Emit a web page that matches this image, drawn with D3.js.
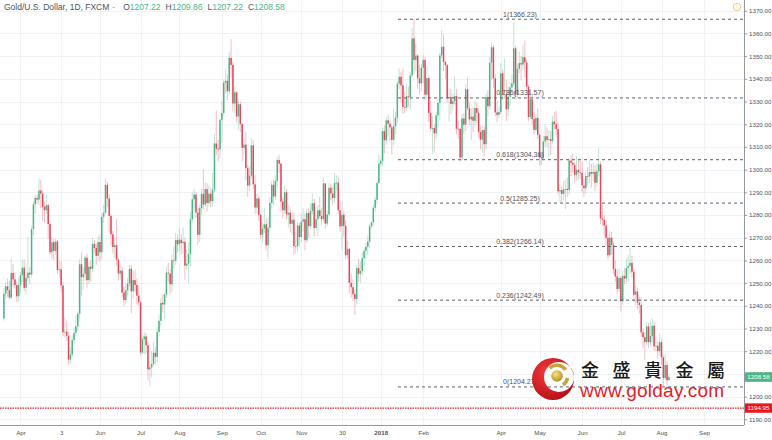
<!DOCTYPE html>
<html><head><meta charset="utf-8">
<script src="https://cdn.jsdelivr.net/npm/d3@7"></script>
<style>body{margin:0;background:#fff}svg{display:block}</style>
</head><body><svg id="c" width="772" height="440"></svg>
<script>
// ---- data: XAU/USD daily candles (FXCM), 2017-03-21 .. 2018-08-07 ----
const opens = [
1234.5,1245.3,1248.6,1246.9,1243.6,1254.5,1251.6,1249.1,1244.2,1249.2,
1253.5,1256.8,1247.9,1252.3,1254.6,1253.8,1273.8,1284.7,1287.5,1286.8,
1290.8,1289.4,1283.6,1282.1,1284.3,1276.0,1263.6,1268.0,1264.2,1268.3,
1255.8,1256.1,1249.0,1228.3,1228.6,1226.8,1216.3,1218.5,1224.9,1228.1,
1230.9,1236.5,1258.3,1252.6,1254.0,1261.2,1251.3,1257.2,1256.3,1267.3,
1265.5,1262.0,1268.1,1263.6,1279.2,1281.0,1293.3,1287.3,1279.6,1271.5,
1265.9,1266.7,1260.3,1254.2,1255.5,1245.8,1242.5,1246.8,1249.8,1256.3,
1246.4,1251.3,1249.2,1244.5,1241.5,1219.4,1225.3,1226.5,1222.6,1212.0,
1212.9,1214.4,1219.3,1217.5,1228.5,1233.4,1241.3,1240.6,1245.0,1254.6,
1254.2,1249.5,1260.0,1259.9,1269.0,1267.1,1269.1,1267.6,1268.2,1257.7,
1258.6,1262.8,1278.1,1286.9,1289.0,1281.1,1271.3,1283.1,1289.3,1284.6,
1291.4,1285.3,1289.4,1286.1,1291.1,1311.5,1309.2,1308.9,1321.9,1324.9,
1338.3,1339.1,1334.5,1349.2,1346.1,1329.1,1334.0,1323.4,1328.8,1320.1,
1309.6,1311.0,1300.6,1293.0,1297.3,1310.7,1293.5,1283.3,1287.3,1280.0,
1271.3,1274.0,1275.9,1266.7,1274.4,1285.3,1293.3,1288.2,1295.1,1304.2,
1302.6,1285.9,1282.1,1290.0,1280.2,1281.0,1276.1,1277.9,1266.3,1266.3,
1275.4,1270.3,1277.0,1278.1,1268.9,1280.9,1275.1,1281.8,1285.2,1274.3,
1278.2,1282.1,1279.5,1278.2,1293.9,1276.2,1280.2,1292.0,1289.5,1287.5,
1294.1,1294.3,1282.1,1275.0,1280.1,1275.2,1262.3,1265.1,1250.1,1248.2,
1245.1,1243.0,1256.6,1254.1,1255.3,1261.0,1264.2,1266.0,1268.3,1275.1,
1276.8,1283.2,1286.7,1294.1,1302.6,1303.8,1316.9,1312.9,1321.7,1320.2,
1318.6,1313.1,1319.1,1322.9,1337.9,1340.9,1337.1,1327.6,1327.3,1332.3,
1331.9,1341.5,1357.8,1348.3,1350.2,1340.2,1338.0,1344.9,1348.3,1333.0,
1340.3,1324.9,1318.1,1318.3,1316.0,1323.9,1329.4,1350.3,1354.1,1347.4,
1346.0,1331.5,1332.0,1328.9,1330.2,1332.4,1318.0,1317.9,1305.4,1322.5,
1319.8,1335.4,1327.0,1322.1,1323.3,1321.5,1327.1,1325.0,1316.6,1313.2,
1317.4,1311.2,1332.0,1327.9,1347.1,1353.9,1340.2,1325.2,1324.1,1325.4,
1342.4,1333.0,1333.3,1326.6,1332.1,1336.2,1338.0,1353.4,1333.1,1344.4,
1346.9,1346.3,1349.5,1347.2,1336.5,1323.2,1331.0,1322.3,1317.5,1322.8,
1315.3,1305.4,1305.1,1312.4,1314.7,1313.1,1313.4,1312.6,1321.1,1320.0,
1317.9,1290.4,1291.0,1289.3,1291.3,1291.5,1291.0,1304.0,1303.0,1302.0,
1297.7,1299.9,1298.8,1298.5,1293.0,1291.8,1297.2,1297.0,1298.9,1298.2,
1299.0,1294.2,1299.3,1302.3,1278.5,1277.9,1275.4,1269.9,1262.3,1270.0,
1266.8,1256.2,1252.9,1247.4,1252.3,1242.0,1253.2,1252.0,1256.7,1257.6,
1258.9,1255.0,1244.9,1246.3,1241.4,1240.3,1228.3,1226.2,1224.0,1230.9,
1224.0,1226.7,1231.2,1222.2,1222.4,1220.0,1224.0,1217.3,1208.2,1213.9,
1207.22];
const highs = [
1248.0,1250.5,1252.0,1251.0,1261.0,1258.5,1254.8,1250.5,1252.5,1255.0,
1260.0,1260.5,1254.0,1270.5,1257.0,1275.0,1286.0,1288.5,1289.0,1296.0,
1295.5,1290.8,1286.0,1289.0,1285.0,1277.0,1270.5,1269.5,1269.5,1269.0,
1260.0,1259.5,1250.5,1235.0,1233.5,1228.5,1222.0,1227.0,1230.5,1236.0,
1237.5,1260.5,1263.5,1257.0,1262.0,1263.0,1259.0,1260.0,1270.0,1269.0,
1267.5,1270.5,1271.0,1281.0,1284.5,1296.0,1294.5,1289.0,1280.5,1273.0,
1270.0,1278.5,1261.0,1258.0,1257.5,1248.5,1250.0,1252.5,1258.0,1258.0,
1255.5,1256.0,1252.0,1249.0,1242.0,1227.0,1228.5,1228.0,1224.0,1215.5,
1220.0,1224.0,1222.0,1230.5,1236.0,1243.5,1245.0,1246.0,1257.0,1259.0,
1256.0,1262.5,1266.0,1272.0,1271.5,1274.0,1271.5,1274.5,1270.0,1265.0,
1268.0,1281.5,1290.0,1291.5,1290.0,1283.0,1284.5,1291.5,1300.0,1294.5,
1294.0,1293.0,1292.0,1298.5,1316.0,1326.0,1313.0,1322.5,1330.0,1339.5,
1344.5,1342.0,1352.0,1357.5,1347.5,1336.5,1334.5,1331.0,1330.0,1320.5,
1313.5,1316.5,1302.0,1301.5,1314.0,1313.0,1297.5,1289.5,1288.5,1280.5,
1276.5,1283.0,1278.5,1279.0,1288.0,1295.0,1295.5,1297.0,1305.5,1306.5,
1303.0,1287.5,1293.0,1291.5,1284.5,1283.5,1281.5,1281.0,1272.5,1277.0,
1276.5,1280.5,1283.0,1280.5,1282.5,1283.0,1285.0,1289.5,1287.0,1281.5,
1284.5,1288.0,1283.0,1296.5,1294.0,1282.0,1294.0,1293.5,1292.5,1298.5,
1297.5,1297.0,1286.5,1286.0,1282.0,1277.5,1268.5,1265.5,1254.0,1251.5,
1247.0,1258.0,1260.5,1259.5,1263.5,1265.5,1268.0,1271.0,1276.0,1277.0,
1284.5,1288.0,1295.0,1306.5,1305.0,1318.5,1319.5,1323.0,1324.0,1321.5,
1319.5,1327.0,1325.5,1339.0,1344.5,1343.0,1344.5,1334.0,1338.0,1336.5,
1343.0,1362.5,1366.2,1355.5,1351.0,1346.0,1346.5,1350.5,1349.5,1345.5,
1341.0,1330.5,1323.5,1320.0,1325.5,1331.5,1351.5,1361.5,1359.5,1348.0,
1346.5,1336.0,1335.5,1333.5,1341.0,1335.5,1321.5,1318.5,1324.5,1325.0,
1337.5,1340.5,1329.5,1327.0,1327.5,1330.0,1329.5,1327.0,1319.5,1319.5,
1319.0,1333.5,1335.0,1349.5,1356.0,1355.0,1342.0,1330.5,1327.5,1347.0,
1344.0,1349.0,1339.5,1336.5,1338.5,1342.0,1365.0,1354.5,1346.5,1352.0,
1350.0,1355.0,1357.0,1348.5,1337.5,1335.5,1333.5,1325.5,1324.5,1327.0,
1316.0,1307.5,1315.0,1320.0,1318.5,1317.5,1317.0,1323.5,1325.5,1326.0,
1320.5,1293.5,1292.5,1295.0,1295.5,1296.5,1305.0,1306.5,1307.0,1303.0,
1306.0,1304.5,1304.0,1303.5,1296.0,1299.0,1301.0,1304.0,1302.5,1303.0,
1302.0,1303.0,1309.5,1303.5,1284.5,1280.0,1277.5,1271.5,1273.0,1272.5,
1268.0,1260.0,1256.0,1256.5,1253.0,1255.5,1256.5,1261.0,1262.5,1265.5,
1262.0,1256.5,1249.0,1248.0,1244.0,1243.5,1230.0,1228.5,1233.0,1232.5,
1233.5,1234.5,1233.0,1226.5,1224.5,1228.0,1225.5,1218.5,1218.5,1215.5,
1209.86];
const lows = [
1233.5,1243.0,1243.8,1242.5,1243.0,1248.5,1247.5,1241.5,1242.0,1245.5,
1250.5,1246.5,1245.0,1250.5,1249.5,1252.5,1271.0,1280.5,1285.0,1284.5,
1283.0,1277.5,1276.5,1280.5,1269.5,1262.5,1260.5,1260.0,1262.5,1254.0,
1252.5,1246.0,1226.5,1226.0,1224.5,1214.0,1214.5,1217.5,1223.0,1226.5,
1229.0,1234.0,1244.5,1247.0,1251.0,1248.0,1249.5,1250.5,1255.0,1263.5,
1258.0,1260.0,1259.5,1260.5,1276.5,1280.5,1283.5,1272.5,1266.5,1263.0,
1261.0,1257.5,1251.0,1251.5,1243.5,1240.0,1241.0,1244.5,1248.5,1236.5,
1243.0,1246.0,1240.5,1240.0,1218.0,1218.5,1218.5,1219.0,1207.5,1204.5,
1208.5,1213.5,1214.0,1215.0,1226.5,1231.0,1237.0,1234.0,1243.5,1250.5,
1245.0,1246.0,1256.5,1258.0,1263.5,1264.0,1262.5,1263.0,1251.5,1256.0,
1250.0,1257.5,1276.5,1282.0,1278.5,1267.0,1268.0,1280.0,1282.5,1283.5,
1281.5,1284.0,1283.5,1283.5,1290.0,1306.5,1303.5,1305.0,1312.0,1323.5,
1333.5,1330.5,1333.0,1340.5,1325.5,1325.0,1320.5,1317.5,1316.5,1303.5,
1306.5,1295.5,1288.0,1290.5,1296.0,1291.5,1280.5,1280.5,1277.5,1269.5,
1267.5,1272.0,1264.5,1260.5,1273.0,1283.0,1284.5,1286.5,1292.0,1298.5,
1281.5,1278.5,1280.5,1278.0,1274.5,1272.5,1271.0,1262.5,1263.0,1264.0,
1266.5,1268.0,1272.5,1264.5,1267.5,1270.0,1274.0,1280.5,1270.5,1273.5,
1270.5,1278.5,1275.5,1277.0,1274.0,1275.0,1279.5,1286.5,1284.5,1285.5,
1290.5,1280.5,1272.5,1264.5,1270.5,1260.5,1260.5,1245.5,1243.5,1242.0,
1236.0,1240.5,1250.5,1250.0,1253.5,1257.5,1260.5,1262.5,1265.5,1274.0,
1275.0,1281.5,1285.0,1293.5,1301.0,1301.5,1307.0,1311.0,1315.0,1312.5,
1306.5,1310.5,1315.5,1320.5,1335.5,1329.5,1324.5,1325.0,1326.0,1327.5,
1326.5,1340.5,1342.0,1343.5,1335.5,1333.0,1334.5,1338.0,1330.5,1331.0,
1321.0,1317.0,1307.0,1307.5,1313.5,1318.5,1322.0,1349.0,1343.5,1340.0,
1329.5,1321.0,1324.5,1326.0,1328.5,1315.5,1313.5,1303.5,1304.0,1315.5,
1317.0,1326.0,1319.5,1313.0,1316.5,1318.5,1320.5,1314.0,1309.0,1307.5,
1306.0,1309.0,1323.5,1326.5,1339.5,1336.0,1323.5,1321.0,1322.5,1324.5,
1330.5,1331.0,1321.5,1323.5,1328.0,1334.0,1336.5,1331.0,1331.5,1342.5,
1339.5,1343.5,1340.5,1334.5,1321.5,1322.5,1319.5,1315.5,1316.5,1313.5,
1301.5,1302.0,1304.0,1310.0,1310.0,1304.5,1306.5,1311.5,1318.0,1314.5,
1289.0,1285.5,1285.5,1286.5,1282.5,1288.0,1289.0,1297.0,1298.5,1294.5,
1295.0,1295.5,1296.0,1290.0,1288.0,1289.5,1293.0,1294.0,1292.0,1295.0,
1290.5,1292.5,1297.0,1276.0,1275.5,1270.5,1266.5,1260.5,1261.5,1262.5,
1254.0,1250.5,1245.5,1246.0,1237.5,1240.5,1249.5,1250.0,1250.5,1254.0,
1252.5,1241.5,1240.0,1238.5,1236.5,1226.5,1221.5,1216.0,1222.5,1221.5,
1222.0,1223.5,1220.0,1220.0,1216.5,1218.0,1214.0,1204.5,1207.0,1204.5,
1207.22];
const closes = [
1245.3,1248.6,1246.9,1243.6,1254.5,1251.6,1249.1,1244.2,1249.2,1253.5,
1256.8,1247.9,1252.3,1254.6,1253.8,1273.8,1284.7,1287.5,1286.8,1290.8,
1289.4,1283.6,1282.1,1284.3,1276.0,1263.6,1268.0,1264.2,1268.3,1255.8,
1256.1,1249.0,1228.3,1228.6,1226.8,1216.3,1218.5,1224.9,1228.1,1230.9,
1236.5,1258.3,1252.6,1254.0,1261.2,1251.3,1257.2,1256.3,1267.3,1265.5,
1262.0,1268.1,1263.6,1279.2,1281.0,1293.3,1287.3,1279.6,1271.5,1265.9,
1266.7,1260.3,1254.2,1255.5,1245.8,1242.5,1246.8,1249.8,1256.3,1246.4,
1251.3,1249.2,1244.5,1241.5,1219.4,1225.3,1226.5,1222.6,1212.0,1212.9,
1214.4,1219.3,1217.5,1228.5,1233.4,1241.3,1240.6,1245.0,1254.6,1254.2,
1249.5,1260.0,1259.9,1269.0,1267.1,1269.1,1267.6,1268.2,1257.7,1258.6,
1262.8,1278.1,1286.9,1289.0,1281.1,1271.3,1283.1,1289.3,1284.6,1291.4,
1285.3,1289.4,1286.1,1291.1,1311.5,1309.2,1308.9,1321.9,1324.9,1338.3,
1339.1,1334.5,1349.2,1346.1,1329.1,1334.0,1323.4,1328.8,1320.1,1309.6,
1311.0,1300.6,1293.0,1297.3,1310.7,1293.5,1283.3,1287.3,1280.0,1271.3,
1274.0,1275.9,1266.7,1274.4,1285.3,1293.3,1288.2,1295.1,1304.2,1302.6,
1285.9,1282.1,1290.0,1280.2,1281.0,1276.1,1277.9,1266.3,1266.3,1275.4,
1270.3,1277.0,1278.1,1268.9,1280.9,1275.1,1281.8,1285.2,1274.3,1278.2,
1282.1,1279.5,1278.2,1293.9,1276.2,1280.2,1292.0,1289.5,1287.5,1294.1,
1294.3,1282.1,1275.0,1280.1,1275.2,1262.3,1265.1,1250.1,1248.2,1245.1,
1243.0,1256.6,1254.1,1255.3,1261.0,1264.2,1266.0,1268.3,1275.1,1276.8,
1283.2,1286.7,1294.1,1302.6,1303.8,1316.9,1312.9,1321.7,1320.2,1318.6,
1313.1,1319.1,1322.9,1337.9,1340.9,1337.1,1327.6,1327.3,1332.3,1331.9,
1341.5,1357.8,1348.3,1350.2,1340.2,1338.0,1344.9,1348.3,1333.0,1340.3,
1324.9,1318.1,1318.3,1316.0,1323.9,1329.4,1350.3,1354.1,1347.4,1346.0,
1331.5,1332.0,1328.9,1330.2,1332.4,1318.0,1317.9,1305.4,1322.5,1319.8,
1335.4,1327.0,1322.1,1323.3,1321.5,1327.1,1325.0,1316.6,1313.2,1317.4,
1311.2,1332.0,1327.9,1347.1,1353.9,1340.2,1325.2,1324.1,1325.4,1342.4,
1333.0,1333.3,1326.6,1332.1,1336.2,1338.0,1353.4,1333.1,1344.4,1346.9,
1346.3,1349.5,1347.2,1336.5,1323.2,1331.0,1322.3,1317.5,1322.8,1315.3,
1305.4,1305.1,1312.4,1314.7,1313.1,1313.4,1312.6,1321.1,1320.0,1317.9,
1290.4,1291.0,1289.3,1291.3,1291.5,1291.0,1304.0,1303.0,1302.0,1297.7,
1299.9,1298.8,1298.5,1293.0,1291.8,1297.2,1297.0,1298.9,1298.2,1299.0,
1294.2,1299.3,1302.3,1278.5,1277.9,1275.4,1269.9,1262.3,1270.0,1266.8,
1256.2,1252.9,1247.4,1252.3,1242.0,1253.2,1252.0,1256.7,1257.6,1258.9,
1255.0,1244.9,1246.3,1241.4,1240.3,1228.3,1226.2,1224.0,1230.9,1224.0,
1226.7,1231.2,1222.2,1222.4,1220.0,1224.0,1217.3,1208.2,1213.9,1207.22,
1208.58];

const tickLabels = ["Apr","3","Jun","Jul","Aug","Sep","Oct","Nov","30","2018","Feb","Apr","May","Jun","Jul","Aug","Sep"];
const tickBars   = [9,31,52,74,95,118,139,161,183,204,227,269,290,313,334,356,379];
const priceTicks = [1190,1200,1210,1220,1230,1240,1250,1260,1270,1280,1290,1300,1310,1320,1330,1340,1350,1360,1370];
const fibRatios = ["1","0.786","0.618","0.5","0.382","0.236","0"];
const fibPrices = [1366.23,1331.57,1304.36,1285.25,1266.14,1242.49,1204.27];
const alertPrice = 1194.95;
const lastPrice = 1208.58;
const legendKeys = ["O","H","L","C"];
const legendVals = ["1207.22","1209.86","1207.22","1208.58"];

// ---- drawing ----
const svg = d3.select("#c");
const plotR = 744, plotB = 425;
const x = d3.scaleLinear().domain([0,379]).range([3.87,704.0]);
const y = d3.scaleLinear().domain([1190,1370]).range([419.3,10.7]);
const UP = "#4bb584", DN = "#e8465a";
const FONT = "'Liberation Sans', Arial, sans-serif";

svg.append("rect").attr("width",772).attr("height",440).attr("fill","#fff");

// grid
const grid = svg.append("g");
grid.selectAll(".hg").data(priceTicks).join("line")
  .attr("x1",0).attr("x2",plotR).attr("y1",d=>Math.round(y(d))+0.5).attr("y2",d=>Math.round(y(d))+0.5)
  .attr("stroke","#f1f2f5").attr("stroke-width",1);
grid.selectAll(".vg").data(tickBars).join("line")
  .attr("y1",0).attr("y2",plotB).attr("x1",d=>Math.round(x(d))+0.5).attr("x2",d=>Math.round(x(d))+0.5)
  .attr("stroke","#f1f2f5").attr("stroke-width",1);

// candles
const bars = d3.range(closes.length).map(i=>({i,o:opens[i],h:highs[i],l:lows[i],c:closes[i]}));
const cg = svg.append("g");
cg.selectAll(".wk").data(bars).join("line")
  .attr("x1",d=>x(d.i)).attr("x2",d=>x(d.i))
  .attr("y1",d=>y(Math.max(d.h,d.o,d.c))).attr("y2",d=>y(Math.min(d.l,d.o,d.c)))
  .attr("stroke",d=>d.c>=d.o?UP:DN).attr("stroke-width",0.8).attr("stroke-opacity",0.45);
cg.selectAll(".bd").data(bars).join("rect")
  .attr("x",d=>x(d.i)-0.75).attr("width",1.5)
  .attr("y",d=>y(Math.max(d.o,d.c)))
  .attr("height",d=>Math.max(0.8,Math.abs(y(d.o)-y(d.c))))
  .attr("fill",d=>d.c>=d.o?UP:DN);

// fib retracement
const fg = svg.append("g");
fg.selectAll("line").data(fibPrices).join("line")
  .attr("x1",398).attr("x2",plotR).attr("y1",d=>y(d)).attr("y2",d=>y(d))
  .attr("stroke","#5d606b").attr("stroke-width",1).attr("stroke-dasharray","3,3");
fg.selectAll("text").data(fibPrices).join("text")
  .attr("x",520).attr("y",d=>y(d)-2.5).attr("text-anchor","middle")
  .attr("font-family",FONT).attr("font-size",7).attr("fill","#4c525e")
  .text((d,i)=>fibRatios[i]+"("+d.toFixed(2)+")");

// alert line
svg.append("line").attr("x1",0).attr("x2",plotR).attr("y1",y(alertPrice)).attr("y2",y(alertPrice))
  .attr("stroke","#f0141e").attr("stroke-width",1.2).attr("stroke-dasharray","1.5,1");

// watermark logo
const lg = svg.append("g");
const defs = svg.append("defs");
const rg = defs.append("radialGradient").attr("id","ball").attr("cx","40%").attr("cy","35%").attr("r","65%");
rg.append("stop").attr("offset","0%").attr("stop-color","#f7e27a");
rg.append("stop").attr("offset","100%").attr("stop-color","#b8902a");
const rr = defs.append("radialGradient").attr("id","red").attr("cx","35%").attr("cy","35%").attr("r","75%");
rr.append("stop").attr("offset","0%").attr("stop-color","#f03a3a");
rr.append("stop").attr("offset","100%").attr("stop-color","#b30d14");
const cx0=553, cy0=379, R0=21, cx1=559, cy1=377, R1=15;
lg.append("path").attr("fill","url(#red)").attr("fill-rule","evenodd")
  .attr("d",`M${cx0-R0},${cy0}a${R0},${R0} 0 1,0 ${2*R0},0a${R0},${R0} 0 1,0 ${-2*R0},0Z M${cx1-R1},${cy1}a${R1},${R1} 0 1,0 ${2*R1},0a${R1},${R1} 0 1,0 ${-2*R1},0Z`);
const arc = d3.arc();
lg.append("path").attr("transform","translate(557,376)").attr("fill","#c9a43a")
  .attr("d",arc({innerRadius:9,outerRadius:12.5,startAngle:-0.75,endAngle:0.95}));
lg.append("path").attr("transform","translate(557,376)").attr("fill","#c9a43a")
  .attr("d",arc({innerRadius:9,outerRadius:12.5,startAngle:1.75,endAngle:2.55}));
lg.append("circle").attr("cx",557).attr("cy",376).attr("r",5.8).attr("fill","url(#ball)");
const cjk = ["金","盛","貴","金","屬"];
lg.selectAll(".cj").data(cjk).join("text")
  .attr("x",(d,i)=>581+i*31.5).attr("y",377)
  .attr("font-family","'Noto Sans CJK TC','Noto Sans CJK SC',sans-serif").attr("font-size",18)
  .attr("font-weight",500).attr("fill","#1a1a1a").text(d=>d);
lg.append("text").attr("x",580).attr("y",397).attr("font-family",FONT).attr("font-size",19)
  .attr("textLength",144).attr("fill","#e3202a").text("www.golday.com");

// axes
const ay = svg.append("g").attr("transform",`translate(${plotR},0)`)
  .call(d3.axisRight(y).tickValues(priceTicks).tickFormat(d3.format(".2f")).tickSize(3).tickPadding(2));
ay.select(".domain").attr("stroke","#9598a1").attr("d",`M0.5,0V${plotB}`);
ay.selectAll(".tick line").attr("stroke","#9598a1");
ay.selectAll(".tick text").attr("font-family",FONT).attr("font-size",6.2).attr("fill","#4c525e");

const ax = svg.append("g").attr("transform",`translate(0,${plotB})`)
  .call(d3.axisBottom(x).tickValues(tickBars).tickFormat((d,i)=>tickLabels[i]).tickSize(0).tickPadding(6));
ax.select(".domain").attr("stroke","#9598a1").attr("d",`M0,0.5H${plotR}`);
ax.selectAll(".tick text").attr("font-family",FONT).attr("font-size",6.2).attr("fill","#4c525e")
  .attr("font-weight",(d,i)=>tickLabels[i]==="2018"?"bold":"normal");

// price labels on axis
function priceTag(p,color){
  const g = svg.append("g").attr("transform",`translate(${plotR+1},${y(p)})`);
  g.append("rect").attr("x",0).attr("y",-4.7).attr("width",27).attr("height",9.4).attr("fill",color);
  g.append("text").attr("x",13.5).attr("y",2.3).attr("text-anchor","middle").attr("font-family",FONT)
   .attr("font-size",6.2).attr("fill","#fff").text(p.toFixed(2));
}
priceTag(lastPrice,UP);
priceTag(alertPrice,"#f0141e");

// header legend
const t = svg.append("text").attr("x",4).attr("y",10).attr("font-family",FONT).attr("font-size",8.5);
t.append("tspan").attr("fill","#4c525e").text("Gold/U.S. Dollar, 1D, FXCM");
t.append("tspan").attr("fill","#9598a1").attr("dx",3).text("-");
legendKeys.forEach((k,i)=>{
  t.append("tspan").attr("fill","#4c525e").attr("dx",i===0?8:5).text(k);
  t.append("tspan").attr("fill",UP).text(legendVals[i]);
});

// top-right small icon
svg.append("circle").attr("cx",737).attr("cy",7).attr("r",3.6).attr("fill","none").attr("stroke","#f5b971").attr("stroke-width",0.9);
svg.append("text").attr("x",737).attr("y",9).attr("text-anchor","middle").attr("font-family",FONT).attr("font-size",5).attr("fill","#f5b971").text("!");
</script>
</body></html>
